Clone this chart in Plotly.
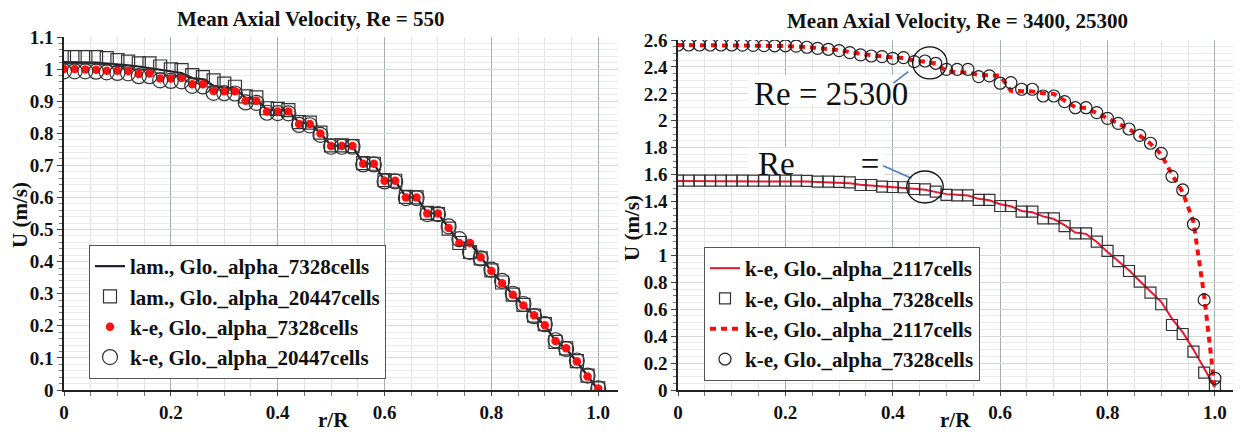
import plotly.graph_objects as go

# ---------------- data ----------------
r_grid = [0.00, 0.02, 0.04, 0.06, 0.08, 0.10, 0.12, 0.14, 0.16, 0.18,
          0.20, 0.22, 0.24, 0.26, 0.28, 0.30, 0.32, 0.34, 0.36, 0.38,
          0.40, 0.42, 0.44, 0.46, 0.48, 0.50, 0.52, 0.54, 0.56, 0.58,
          0.60, 0.62, 0.64, 0.66, 0.68, 0.70, 0.72, 0.74, 0.76, 0.78,
          0.80, 0.82, 0.84, 0.86, 0.88, 0.90, 0.92, 0.94, 0.96, 0.98, 1.00]

# Re = 550
lam_7328 = [1.022, 1.022, 1.021, 1.020, 1.017, 1.015, 1.012, 1.008, 1.003, 1.000,
            0.993, 0.988, 0.972, 0.968, 0.948, 0.942, 0.940, 0.910, 0.907, 0.873,
            0.872, 0.870, 0.833, 0.831, 0.800, 0.762, 0.760, 0.760, 0.706, 0.705,
            0.653, 0.652, 0.601, 0.600, 0.551, 0.550, 0.505, 0.460, 0.458, 0.414,
            0.371, 0.333, 0.297, 0.263, 0.233, 0.202, 0.153, 0.128, 0.088, 0.042, 0.000]
lam_20447 = [1.037, 1.037, 1.037, 1.037, 1.034, 1.028, 1.023, 1.018, 1.018, 1.008,
             0.999, 0.997, 0.981, 0.975, 0.965, 0.955, 0.945, 0.915, 0.912, 0.878,
             0.876, 0.872, 0.835, 0.833, 0.802, 0.762, 0.762, 0.760, 0.707, 0.705,
             0.654, 0.652, 0.602, 0.600, 0.552, 0.548, 0.503, 0.458, 0.430, 0.410,
             0.373, 0.335, 0.297, 0.265, 0.232, 0.205, 0.150, 0.130, 0.090, 0.045, 0.005]
ke_7328_550 = [1.000, 1.000, 0.999, 0.998, 0.995, 0.995, 0.994, 0.985, 0.986, 0.971,
               0.971, 0.972, 0.953, 0.953, 0.932, 0.931, 0.931, 0.901, 0.901, 0.868,
               0.868, 0.868, 0.829, 0.829, 0.799, 0.760, 0.760, 0.760, 0.705, 0.705,
               0.652, 0.652, 0.600, 0.600, 0.550, 0.550, 0.505, 0.458, 0.458, 0.414,
               0.371, 0.333, 0.297, 0.263, 0.233, 0.202, 0.153, 0.130, 0.089, 0.042, 0.005]
ke_20447_550 = [0.993, 0.993, 0.993, 0.992, 0.990, 0.988, 0.987, 0.978, 0.978, 0.965,
                0.963, 0.962, 0.948, 0.946, 0.926, 0.925, 0.924, 0.896, 0.895, 0.864,
                0.863, 0.862, 0.826, 0.825, 0.795, 0.758, 0.758, 0.758, 0.703, 0.703,
                0.650, 0.650, 0.598, 0.598, 0.548, 0.548, 0.510, 0.470, 0.430, 0.410,
                0.375, 0.340, 0.300, 0.268, 0.230, 0.205, 0.155, 0.128, 0.092, 0.045, 0.005]

# Re = 3400
ke_2117_3400 = [1.553, 1.553, 1.553, 1.553, 1.553, 1.553, 1.553, 1.553, 1.553, 1.553,
                1.553, 1.550, 1.548, 1.545, 1.543, 1.540, 1.535, 1.525, 1.520, 1.510,
                1.508, 1.505, 1.495, 1.488, 1.470, 1.455, 1.450, 1.445, 1.420, 1.410,
                1.380, 1.365, 1.330, 1.320, 1.290, 1.270, 1.225, 1.170, 1.160, 1.100,
                1.025, 0.960, 0.890, 0.810, 0.730, 0.655, 0.530, 0.430, 0.300, 0.160, 0.020]
ke_7328_3400 = [1.555, 1.555, 1.555, 1.555, 1.555, 1.555, 1.555, 1.555, 1.555, 1.555,
                1.555, 1.555, 1.553, 1.548, 1.548, 1.546, 1.543, 1.523, 1.523, 1.511,
                1.508, 1.506, 1.493, 1.490, 1.473, 1.449, 1.446, 1.446, 1.412, 1.412,
                1.367, 1.367, 1.325, 1.325, 1.275, 1.275, 1.218, 1.164, 1.164, 1.102,
                1.033, 0.958, 0.884, 0.805, 0.723, 0.637, 0.483, 0.416, 0.285, 0.129, 0.025]

# Re = 25300
ke_2117_25300 = [2.563, 2.563, 2.563, 2.563, 2.563, 2.563, 2.561, 2.560, 2.558, 2.556,
                 2.555, 2.553, 2.548, 2.540, 2.533, 2.525, 2.510, 2.495, 2.487, 2.478,
                 2.470, 2.466, 2.445, 2.440, 2.425, 2.368, 2.362, 2.358, 2.340, 2.338,
                 2.335, 2.222, 2.220, 2.218, 2.205, 2.200, 2.150, 2.100, 2.095, 2.058,
                 2.018, 1.980, 1.938, 1.890, 1.830, 1.750, 1.600, 1.470, 1.250, 0.700, 0.000]
ke_7328_25300 = [2.563, 2.563, 2.563, 2.563, 2.563, 2.563, 2.562, 2.560, 2.558, 2.557,
                 2.557, 2.555, 2.546, 2.538, 2.531, 2.521, 2.506, 2.489, 2.481, 2.476,
                 2.464, 2.469, 2.439, 2.444, 2.427, 2.382, 2.382, 2.382, 2.328, 2.333,
                 2.279, 2.283, 2.234, 2.234, 2.184, 2.184, 2.142, 2.097, 2.097, 2.060,
                 2.018, 1.981, 1.939, 1.892, 1.833, 1.758, 1.587, 1.486, 1.231, 0.669, 0.087]

x_tickvals = [0, 0.2, 0.4, 0.6, 0.8, 1.0]
x_ticktext = ["0", "0.2", "0.4", "0.6", "0.8", "1.0"]

# ---------------- figure ----------------
SERIF = "Liberation Serif"
OFF = 8                      # page body margin
W, H = 1241 - OFF, 434 - OFF


def px(x):
    return (x - OFF) / W


def py(y):
    return 1 - (y - OFF) / H


fig = go.Figure()

# left subplot
fig.add_trace(go.Scatter(x=r_grid, y=lam_7328, mode="lines", name="lam., Glo._alpha_7328cells",
                         line=dict(color="#1c1c2c", width=2.2), xaxis="x", yaxis="y", legend="legend"))
fig.add_trace(go.Scatter(x=r_grid, y=lam_20447, mode="markers", name="lam., Glo._alpha_20447cells",
                         marker=dict(symbol="square-open", size=13, color="#333333", line=dict(width=1.2)),
                         xaxis="x", yaxis="y", legend="legend"))
fig.add_trace(go.Scatter(x=r_grid, y=ke_7328_550, mode="markers", name="k-e, Glo._alpha_7328cells",
                         marker=dict(symbol="circle", size=8.5, color="#ff1010"),
                         xaxis="x", yaxis="y", legend="legend"))
fig.add_trace(go.Scatter(x=r_grid, y=ke_20447_550, mode="markers", name="k-e, Glo._alpha_20447cells",
                         marker=dict(symbol="circle-open", size=15, color="#333333", line=dict(width=1.2)),
                         xaxis="x", yaxis="y", legend="legend"))

# right subplot
fig.add_trace(go.Scatter(x=r_grid, y=ke_2117_3400, mode="lines", name="k-e, Glo._alpha_2117cells",
                         line=dict(color="#e8162e", width=2), xaxis="x2", yaxis="y2", legend="legend2"))
fig.add_trace(go.Scatter(x=r_grid, y=ke_7328_3400, mode="markers", name="k-e, Glo._alpha_7328cells",
                         marker=dict(symbol="square-open", size=11, color="#333333", line=dict(width=1.2)),
                         xaxis="x2", yaxis="y2", legend="legend2"))
fig.add_trace(go.Scatter(x=r_grid, y=ke_2117_25300, mode="lines", name="k-e, Glo._alpha_2117cells",
                         line=dict(color="#ff0a0a", width=4, dash="6px,5px"), xaxis="x2", yaxis="y2",
                         legend="legend2"))
fig.add_trace(go.Scatter(x=r_grid, y=ke_7328_25300, mode="markers", name="k-e, Glo._alpha_7328cells",
                         marker=dict(symbol="circle-open", size=12, color="#222222", line=dict(width=1.2)),
                         xaxis="x2", yaxis="y2", legend="legend2"))

tickfont = dict(family=SERIF, size=19, color="#111111", weight="bold")
titlefont = dict(family=SERIF, size=21, color="#111111", weight="bold")


def xaxis_cfg(domain, rng, anchor):
    return dict(domain=domain, range=rng, anchor=anchor, automargin=False,
                tickvals=x_tickvals, ticktext=x_ticktext, tickfont=tickfont,
                showline=True, linecolor="#222222", linewidth=1.5,
                showgrid=True, gridcolor="#a7b0b0", gridwidth=1,
                ticks="outside", ticklen=4, tickcolor="#444444",
                minor=dict(dtick=0.05, showgrid=True, gridcolor="#e3e3e3",
                           ticks="outside", ticklen=4, tickcolor="#777777"),
                zeroline=False)


def yaxis_cfg(domain, rng, anchor, dtick, minor_dtick):
    return dict(domain=domain, range=rng, anchor=anchor, automargin=False,
                dtick=dtick, tickfont=tickfont,
                showline=True, linecolor="#222222", linewidth=1.5,
                showgrid=True, gridcolor="#d8d8d8",
                ticks="outside", ticklen=5, tickcolor="#444444",
                minor=dict(dtick=minor_dtick, showgrid=True, gridcolor="#ebebeb",
                           ticks="outside", ticklen=3, tickcolor="#777777"),
                zeroline=False)


legend_font = dict(family=SERIF, size=21, color="#111111", weight="bold")

fig.update_layout(
    width=W, height=H,
    margin=dict(l=0, r=0, t=0, b=0, autoexpand=False),
    paper_bgcolor="white", plot_bgcolor="white",
    showlegend=True,
    xaxis=xaxis_cfg([px(64), px(618)], [0, 1.037], "y"),
    yaxis=yaxis_cfg([py(390), py(37)], [0, 1.1], "x", 0.1, 0.02),
    xaxis2=xaxis_cfg([px(678), px(1238)], [0, 1.043], "y2"),
    yaxis2=yaxis_cfg([py(390), py(40)], [0, 2.6], "x2", 0.2, 0.05),
    legend=dict(x=px(89), y=py(245), xanchor="left", yanchor="top",
                bgcolor="white", bordercolor="#555555", borderwidth=1,
                font=legend_font, itemwidth=30, tracegroupgap=0),
    legend2=dict(x=px(704), y=py(247), xanchor="left", yanchor="top",
                 bgcolor="white", bordercolor="#555555", borderwidth=1,
                 font=legend_font, itemwidth=30, tracegroupgap=0),
)

# subplot titles
fig.add_annotation(text="Mean Axial Velocity, Re = 550", xref="paper", yref="paper",
                   x=px(310), y=py(19), showarrow=False, xanchor="center", yanchor="middle",
                   font=dict(family=SERIF, size=21, color="#111111", weight="bold"))
fig.add_annotation(text="Mean Axial Velocity, Re = 3400, 25300", xref="paper", yref="paper",
                   x=px(957), y=py(21), showarrow=False, xanchor="center", yanchor="middle",
                   font=dict(family=SERIF, size=21, color="#111111", weight="bold"))

# axis titles
for xc in (333, 955):
    fig.add_annotation(text="r/R", xref="paper", yref="paper", x=px(xc), y=py(420),
                       showarrow=False, xanchor="center", yanchor="middle", font=titlefont)
for xc, yc in ((20, 215), (632, 228)):
    fig.add_annotation(text="U (m/s)", xref="paper", yref="paper", x=px(xc), y=py(yc),
                       showarrow=False, xanchor="center", yanchor="middle", textangle=-90, font=titlefont)

# white text frames behind the call-out labels (between grid and traces)
fig.add_shape(type="rect", xref="x2", yref="y2", x0=0.130, x1=0.422, y0=2.125, y1=2.340,
              fillcolor="white", line=dict(width=0), layer="between")
fig.add_shape(type="rect", xref="x2", yref="y2", x0=0.130, x1=0.385, y0=1.585, y1=1.800,
              fillcolor="white", line=dict(width=0), layer="between")

# Reynolds-number call-outs in the right panel
fig.add_annotation(text="Re = 25300", xref="x2", yref="y2", x=0.285, y=2.200,
                   showarrow=False, xanchor="center", yanchor="middle",
                   font=dict(family=SERIF, size=33, color="#111111"))
fig.add_annotation(text="Re\u00a0\u00a0\u00a0\u00a0\u00a0\u00a0\u00a0\u00a0=",
                   xref="x2", yref="y2", x=0.262, y=1.680,
                   showarrow=False, xanchor="center", yanchor="middle",
                   font=dict(family=SERIF, size=33, color="#111111"))

fig.add_shape(type="line", xref="x2", yref="y2", x0=0.401, y0=2.279, x1=0.429, y1=2.365,
              line=dict(color="#4a7ebb", width=1.5))
fig.add_shape(type="line", xref="x2", yref="y2", x0=0.382, y0=1.666, x1=0.435, y1=1.573,
              line=dict(color="#4a7ebb", width=1.5))
fig.add_shape(type="circle", xref="x2", yref="y2", x0=0.437, x1=0.501, y0=2.311, y1=2.549,
              line=dict(color="#111111", width=1.3))
fig.add_shape(type="circle", xref="x2", yref="y2", x0=0.426, x1=0.494, y0=1.389, y1=1.627,
              line=dict(color="#111111", width=1.3))

fig.write_html("out.html")
